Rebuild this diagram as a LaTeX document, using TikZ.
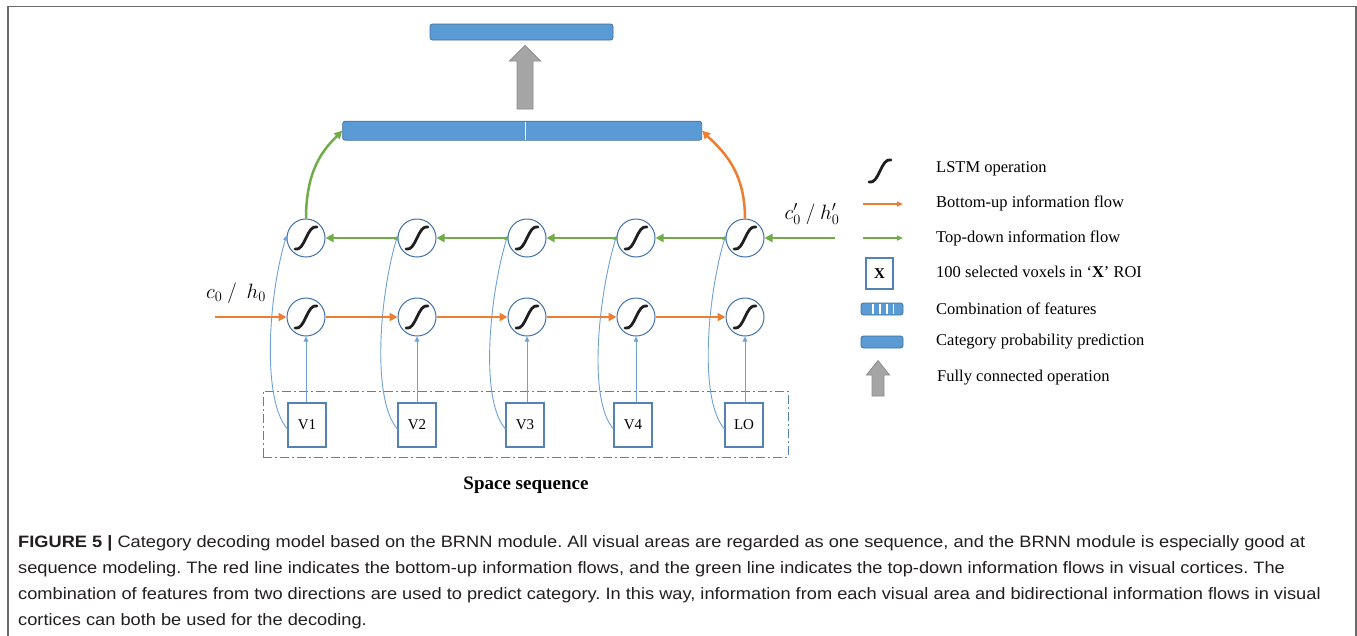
\documentclass[tikz,border=0pt]{standalone}
\usepackage{fontspec}
\setmainfont{Liberation Serif}
\newfontfamily\capfont[FakeStretch=1.105]{Liberation Sans}
\usetikzlibrary{arrows.meta}
\frenchspacing
\definecolor{fillblue}{RGB}{91,155,213}
\definecolor{edgeblue}{RGB}{65,113,156}
\definecolor{circblue}{RGB}{65,113,170}
\definecolor{thinblue}{RGB}{110,162,214}
\definecolor{boxblue}{RGB}{84,130,180}
\definecolor{orangec}{RGB}{237,125,49}
\definecolor{greenc}{RGB}{112,173,71}
\definecolor{grayc}{RGB}{165,165,165}
\definecolor{grayedge}{RGB}{140,140,140}
\definecolor{framec}{RGB}{105,105,105}
\definecolor{captext}{RGB}{35,31,32}
\tikzset{
  lstm/.style={circle, draw=circblue, line width=1pt, minimum size=38pt, inner sep=0pt},
  roi/.style={rectangle, draw=boxblue, line width=1.2pt, minimum width=38pt, minimum height=44pt, inner sep=0pt, font=\fontsize{15}{18}\selectfont},
  featbar/.style={rectangle, rounded corners=2.5pt, fill=fillblue, draw=edgeblue, line width=0.8pt, inner sep=0pt},
  upflow/.style={draw=orangec, line width=2.5pt, -{Triangle[length=8pt,width=8pt]}},
  downflow/.style={draw=greenc, line width=2.5pt, -{Triangle[length=8pt,width=8pt]}},
  feed/.style={draw=thinblue, line width=0.9pt, -{Triangle[length=5pt,width=4.5pt]}},
  legtext/.style={anchor=west, inner sep=0pt, font=\fontsize{16.5}{19}\selectfont},
  capline/.style={anchor=west, inner sep=0pt, text=captext, font=\capfont\fontsize{16.5}{19}\selectfont},
  fcarrow/.style={fill=grayc, draw=grayedge, line width=0.8pt},
  sig/.pic={\draw[black!88, line width=2.8pt, line cap=round] (-11,11) .. controls (-1,14) and (1,-14) .. (11,-11);}
}
\begin{document}
\begin{tikzpicture}[x=1pt,y=-1pt]
\useasboundingbox (0,0) rectangle (1357,635);
\fill[white] (0,0) rectangle (1357,635);
\draw[framec, line width=1.6pt] (8,640) -- (8,6.5) -- (1356,6.5) -- (1356,640);

% top prediction and feature bar
\node[featbar, minimum width=183pt, minimum height=16pt] (pred) at (521.5,32) {};
\node[featbar, minimum width=359pt, minimum height=19pt] (bar) at (522.2,130.7) {};
\draw[white, line width=1.5pt] (525.3,122) -- (525.3,139.5);
\draw[fcarrow] (517,109) -- (517,61) -- (509.5,61) -- (525,45.5) -- (540.5,61) -- (533,61) -- (533,109) -- cycle;

% dash-dot sequence frame
\node[draw=boxblue, line width=1pt, dash pattern=on 9pt off 3pt on 2pt off 3pt, minimum width=525pt, minimum height=66pt, inner sep=0pt] (seq) at (525.5,424) {};
\node[font=\bfseries\fontsize{19}{22}\selectfont] (seqlabel) at (526,485) {Space sequence};

% LSTM cells and inputs
\foreach \i/\x in {1/306,2/417,3/527,4/636,5/745} {
  \node[lstm] (u\i) at (\x,238) {};
  \node[lstm] (l\i) at (\x,317) {};
  \pic at (u\i) {sig};
  \pic at (l\i) {sig};
}
\foreach \i/\x/\t in {1/307/V1,2/417/V2,3/525/V3,4/633/V4,5/744/LO} {
  \node[roi] (b\i) at (\x,425) {\t};
}
\foreach \i in {1,...,5} {
  \draw[feed] (l\i.south |- b\i.north) -- (l\i.south);
  \draw[feed] ([yshift=-4pt]b\i.west) .. controls +(-26,-30) and +(-18,60) .. (u\i.172);
}

% flows
\coordinate (in0) at (215,317);
\coordinate (in1) at (835,238);
\draw[upflow] (in0) -- (l1.west);
\foreach \i/\j in {1/2,2/3,3/4,4/5} {
  \draw[upflow] (l\i.east) -- (l\j.west);
  \draw[downflow] (u\j.west) -- (u\i.east);
}
\draw[downflow] (in1) -- (u5.east);
\draw[downflow] (u1.north) .. controls +(0,-50) and +(-18,18) .. (bar.west);
\draw[upflow] (u5.north) .. controls +(0,-50) and +(18,18) .. (bar.east);

\node[font=\fontsize{19.5}{22}\selectfont] (c0) at (236,293) {$c_0\ /\ \ h_0$};
\node[font=\fontsize{19.5}{22}\selectfont] (c1) at (812,214) {$c'_0\ /\ h'_0$};

% legend
\begin{scope}[shift={(880,171)}, scale=0.9]
\pic at (0,0) {sig};
\end{scope}
\coordinate (lo1) at (863,204); \coordinate (lo2) at (903,204);
\draw[draw=orangec, line width=1.5pt, -{Triangle[length=6pt,width=5pt]}] (lo1) -- (lo2);
\coordinate (lg1) at (863,238); \coordinate (lg2) at (903,238);
\draw[draw=greenc, line width=1.5pt, -{Triangle[length=6pt,width=5pt]}] (lg1) -- (lg2);
\node[rectangle, draw=boxblue, line width=1.2pt, minimum width=27pt, minimum height=31pt, inner sep=0pt, font=\bfseries\fontsize{15}{18}\selectfont] (lx) at (879.5,273.5) {X};
\node[featbar, minimum width=42pt, minimum height=12pt] (lcomb) at (882,309) {};
\foreach \d in {873,880,887,893.7} \draw[white, line width=1.3pt] (\d,303.8) -- (\d,314.2);
\node[featbar, minimum width=42pt, minimum height=12pt] (lcat) at (882,342) {};
\draw[fcarrow] (872,396) -- (872,375) -- (866.5,375) -- (878,360.5) -- (889.5,375) -- (884,375) -- (884,396) -- cycle;

\node[legtext] at (936,169) {LSTM operation};
\node[legtext] at (936,203) {Bottom-up information flow};
\node[legtext] at (936,238) {Top-down information flow};
\node[legtext] at (936,272) {100 selected voxels in ‘\textbf{X}’ ROI};
\node[legtext] at (936,309) {Combination of features};
\node[legtext] at (936,342) {Category probability prediction};
\node[legtext] at (937,378) {Fully connected operation};

% caption
\node[capline] at (18,543) {\textbf{FIGURE 5 |} Category decoding model based on the BRNN module. All visual areas are regarded as one sequence, and the BRNN module is especially good at};
\node[capline] at (18,569) {sequence modeling. The red line indicates the bottom-up information flows, and the green line indicates the top-down information flows in visual cortices. The};
\node[capline] at (18,595) {combination of features from two directions are used to predict category. In this way, information from each visual area and bidirectional information flows in visual};
\node[capline] at (18,621) {cortices can both be used for the decoding.};
\end{tikzpicture}
\end{document}
